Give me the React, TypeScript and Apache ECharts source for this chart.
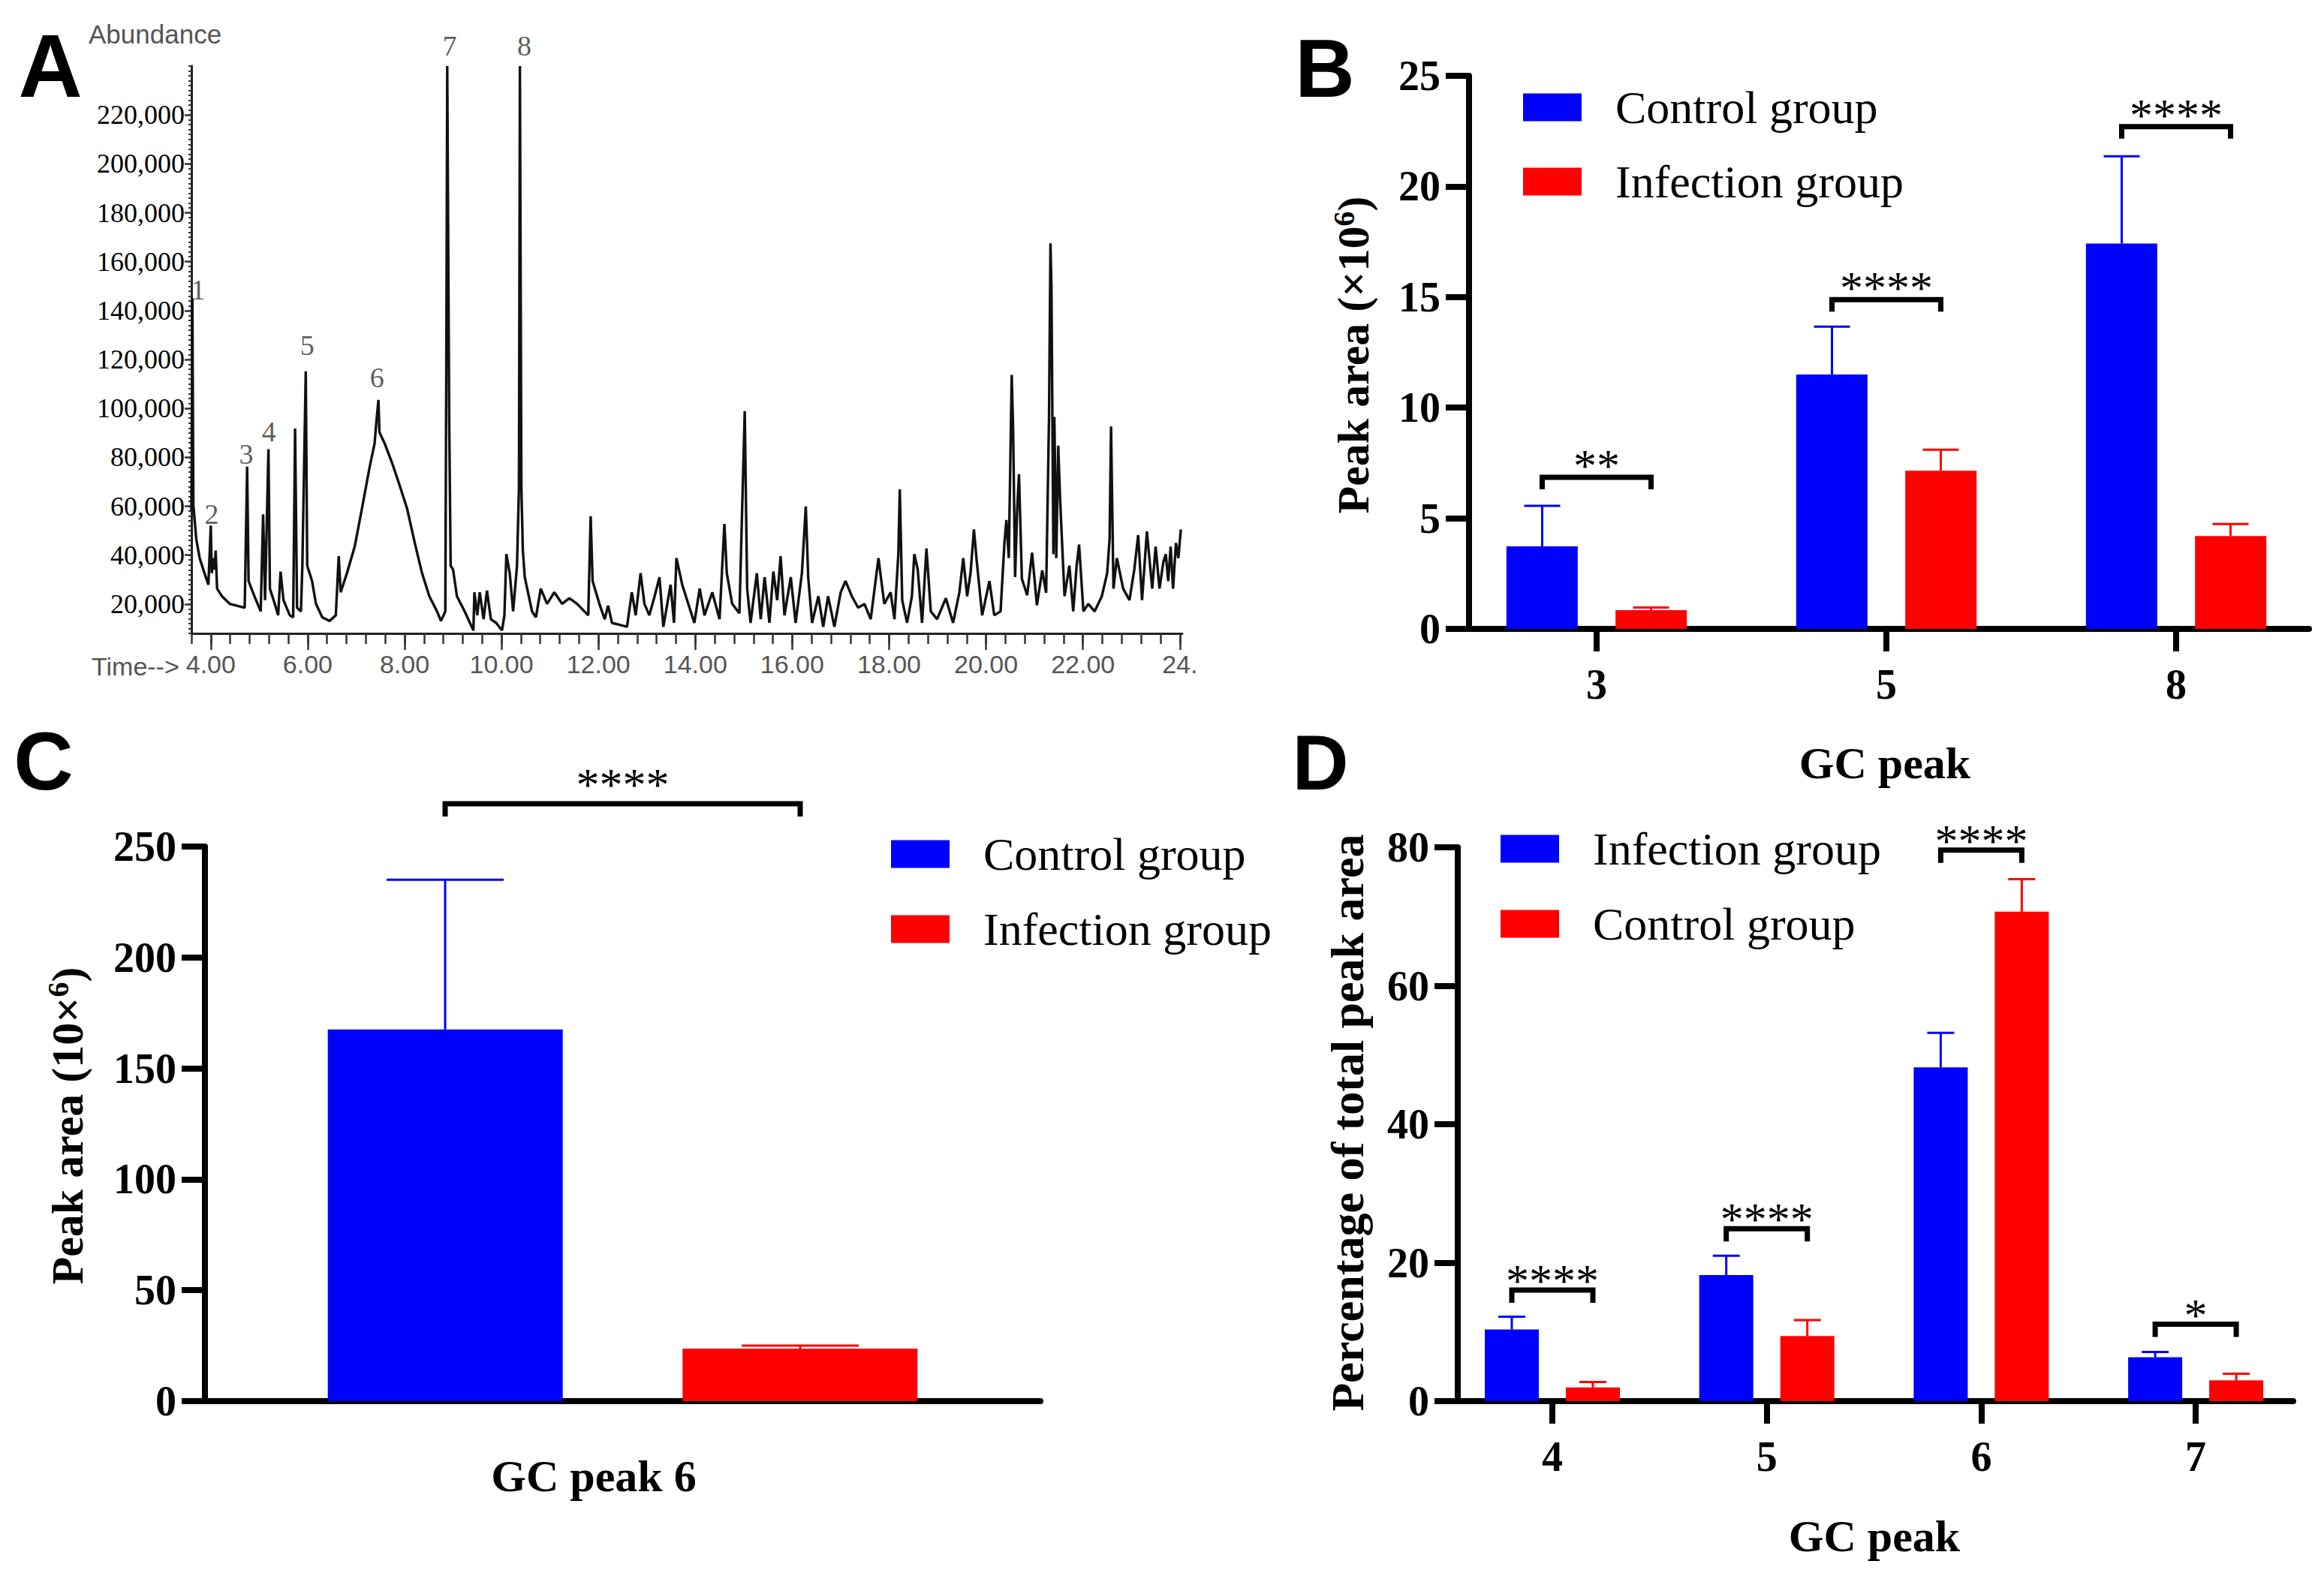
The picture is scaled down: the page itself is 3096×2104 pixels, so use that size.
import React, { useEffect, useRef } from 'react';
import * as echarts from 'echarts';

const BLUE = '#0000FF';
const RED = '#FF0000';
const SERIF = '"Liberation Serif", "Times New Roman", serif';
const SANS = '"Liberation Sans", Arial, sans-serif';

// ---------------- Panel A : chromatogram (abundance in thousands) ----------------
const traceTime = [
  3.60, 3.62, 3.64, 3.70, 3.77, 3.87, 3.95, 4.00, 4.02, 4.05, 4.08, 4.10, 4.13, 4.23, 4.39, 4.54, 4.70,
  4.75, 4.78, 4.90, 5.03, 5.08, 5.12, 5.19, 5.22, 5.32, 5.39, 5.44, 5.50, 5.63, 5.70, 5.74, 5.78, 5.86,
  5.89, 5.96, 5.99, 6.09, 6.17, 6.30, 6.45, 6.58, 6.64, 6.68, 6.81, 6.97, 7.12, 7.28, 7.38, 7.42, 7.46,
  7.48, 7.59, 7.74, 7.90, 8.05, 8.21, 8.36, 8.51, 8.67, 8.75, 8.84, 8.86, 8.88, 8.92, 8.95, 9.00, 9.08,
  9.24, 9.42, 9.44, 9.50, 9.55, 9.63, 9.70, 9.78, 9.89, 10.01, 10.06, 10.10, 10.17, 10.24, 10.32, 10.36,
  10.38, 10.41, 10.44, 10.48, 10.63, 10.71, 10.81, 10.94, 11.09, 11.25, 11.40, 11.56, 11.71, 11.79, 11.84,
  11.88, 12.02, 12.13, 12.20, 12.28, 12.44, 12.59, 12.69, 12.77, 12.87, 12.95, 13.05, 13.16, 13.26, 13.34,
  13.49, 13.56, 13.61, 13.73, 13.88, 13.98, 14.09, 14.19, 14.35, 14.50, 14.60, 14.65, 14.76, 14.91, 15.02,
  15.07, 15.14, 15.27, 15.35, 15.43, 15.53, 15.61, 15.69, 15.76, 15.84, 15.97, 16.07, 16.20, 16.28, 16.33,
  16.41, 16.54, 16.64, 16.74, 16.87, 17.00, 17.10, 17.23, 17.36, 17.49, 17.62, 17.78, 17.90, 18.03, 18.11,
  18.19, 18.22, 18.27, 18.37, 18.47, 18.52, 18.59, 18.68, 18.77, 18.86, 18.99, 19.17, 19.32, 19.45, 19.53,
  19.61, 19.68, 19.75, 19.81, 19.92, 20.07, 20.17, 20.30, 20.38, 20.42, 20.47, 20.53, 20.56, 20.60, 20.64,
  20.68, 20.74, 20.85, 20.95, 21.05, 21.16, 21.24, 21.30, 21.33, 21.35, 21.39, 21.41, 21.45, 21.49, 21.53,
  21.62, 21.72, 21.80, 21.87, 21.92, 22.01, 22.11, 22.24, 22.39, 22.50, 22.55, 22.58, 22.63, 22.70, 22.83,
  22.96, 23.06, 23.14, 23.22, 23.32, 23.43, 23.50, 23.58, 23.66, 23.71, 23.76, 23.81, 23.86, 23.92, 23.97,
  24.02,
];
const traceAbundance = [
  58, 145, 60.6, 46.6, 38.8, 32.6, 27.9, 52.1, 32.6, 38.8, 34.1, 41.9, 26.3, 23.2, 20.1, 19.3, 18.5,
  76.2, 29.4, 23.2, 17.0, 56.7, 21.6, 83.3, 26.3, 20.1, 15.4, 33.3, 21.6, 15.4, 14.6, 91.8, 18.5, 17.0,
  35.7, 115.2, 35.7, 29.4, 20.1, 14.6, 13.1, 15.4, 39.6, 24.8, 32.6, 43.5, 59.1, 76.2, 85.6, 95.0, 103.5,
  90.3, 85.6, 77.8, 68.4, 59.1, 45.0, 32.6, 23.2, 17.0, 13.1, 17.0, 113.7, 240, 96.5, 35.7, 34.1, 23.2,
  17.0, 9.2, 24.8, 15.4, 24.8, 13.8, 25.5, 13.8, 12.3, 9.2, 15.4, 40.4, 32.6, 17.0, 35.7, 67.7,
  240, 67.7, 42.0, 31.0, 17.0, 14.6, 26.3, 20.1, 24.8, 20.1, 22.4, 20.1, 17.0, 15.4, 55.9,
  29.4, 20.1, 13.8, 19.3, 12.3, 11.5, 10.7, 24.8, 15.4, 32.6, 20.1, 15.4, 23.2, 31.0, 10.7,
  27.9, 12.3, 38.8, 27.9, 18.5, 12.3, 26.3, 15.4, 24.8, 13.8, 52.8, 32.6, 20.1, 16.2, 98.9,
  26.3, 12.3, 32.6, 13.8, 31.0, 12.3, 33.3, 21.6, 39.6, 15.4, 31.0, 12.3, 32.6, 59.9, 31.0,
  12.3, 23.2, 10.7, 23.2, 10.7, 24.8, 29.4, 23.2, 18.5, 20.1, 13.8, 38.8, 20.1, 24.8, 13.8,
  40.4, 66.9, 21.6, 12.3, 23.2, 40.4, 34.1, 12.3, 42.7, 17.0, 13.8, 22.4, 12.3, 24.8, 38.8,
  23.2, 32.6, 50.5, 37.2, 15.4, 29.4, 15.4, 17.0, 45.0, 54.4, 38.8, 113.7, 90.3, 31.0, 57.5,
  73.1, 30.3, 23.6, 41.0, 19.5, 33.8, 24.6, 96.5, 167.5, 149.6, 40.4, 96.5, 38.8, 84.8, 62.2,
  23.2, 35.7, 17.0, 35.7, 44.3, 17.0, 20.1, 17.0, 23.2, 32.6, 46.6, 92.6, 26.3, 38.8, 26.3,
  21.6, 34.1, 48.2, 21.6, 49.7, 26.3, 43.5, 26.3, 37.2, 40.4, 29.4, 43.5, 26.3, 45.0, 38.8,
  50.5,
];
const peakNames = ['1', '2', '3', '4', '5', '6', '7', '8'];
const peakLabelTime = [3.74, 4.02, 4.73, 5.2, 5.99, 7.43, 8.93, 10.47];
const peakLabelAbundance = [148.6, 56.8, 81.3, 90.6, 125.8, 112.6, 248.3, 248.3];
const aYLabelValues = [20, 40, 60, 80, 100, 120, 140, 160, 180, 200, 220];
const aXLabelValues = [4, 6, 8, 10, 12, 14, 16, 18, 20, 22, 24];

// ---------------- Panel B ----------------
const bCategories = ['3', '5', '8'];
const bControl = [3.73, 11.5, 17.42];
const bControlSD = [1.83, 2.16, 3.94];
const bInfection = [0.85, 7.15, 4.2];
const bInfectionSD = [0.12, 0.95, 0.54];
const bSigLabels = ['**', '****', '****'];
const bSigLevels = [6.85, 14.88, 22.7];

// ---------------- Panel C ----------------
const cCategories = ['GC peak 6'];
const cControl = [167.5];
const cControlSD = [67.5];
const cInfection = [23.7];
const cInfectionSD = [1.3];
const cSigLabels = ['****'];
const cSigLevels = [269.3];

// ---------------- Panel D ----------------
const dCategories = ['4', '5', '6', '7'];
const dInfection = [10.36, 18.2, 48.2, 6.33];
const dInfectionSD = [1.84, 2.8, 5.0, 0.77];
const dControl = [1.98, 9.4, 70.7, 3.0];
const dControlSD = [0.79, 2.3, 4.7, 0.96];
const dSigLabels = ['****', '****', '****', '*'];
const dSigLevels = [16.05, 24.9, 79.6, 11.1];

function range(start: number, end: number, step: number): number[] {
  const out: number[] = [];
  for (let v = start; v <= end + 1e-9; v += step) out.push(Math.round(v * 100) / 100);
  return out;
}
const aXMinorTicks = range(3.6, 24.0, 0.4);
const aYMinorTicks = range(8, 240, 2);

const boldTick = { fontFamily: SERIF, fontWeight: 'bold', fontSize: 56, color: '#000' };

// group index positions on a value axis (0..n-1), labelled with the category names
function groupX(gridIndex: number, cats: string[], min: number, max: number) {
  const idx = cats.map((_, i) => i);
  return {
    type: 'value', gridIndex, min, max,
    axisLine: { show: true, onZero: false, lineStyle: { color: '#000', width: 8 } },
    axisTick: { show: true, customValues: idx, length: 30, lineStyle: { color: '#000', width: 8 } },
    axisLabel: { customValues: idx, margin: 46, ...boldTick, formatter: (v: number) => cats[Math.round(v)] },
    splitLine: { show: false },
  };
}
function catX(gridIndex: number, data: string[]) {
  return {
    type: 'category', gridIndex, data,
    axisLine: { show: true, onZero: false, lineStyle: { color: '#000', width: 8 } },
    axisTick: { show: false },
    axisLabel: { show: false },
    splitLine: { show: false },
  };
}
function valY(gridIndex: number, max: number, interval: number) {
  return {
    type: 'value', gridIndex, min: 0, max, interval,
    axisLine: { show: true, onZero: false, lineStyle: { color: '#000', width: 8 } },
    axisTick: { show: true, length: 31, lineStyle: { color: '#000', width: 8 } },
    axisLabel: { margin: 38, ...boldTick },
    splitLine: { show: false },
  };
}
function bars(name: string, axis: number, data: number[], color: string, barWidth: number, barGap: string, paired: boolean) {
  return {
    type: 'bar', name, xAxisIndex: axis, yAxisIndex: axis,
    data: paired ? data.map((v, i) => [i, v]) : data,
    barWidth, barGap,
    itemStyle: { color }, silent: true, z: 2,
  };
}
function errorBars(axis: number, means: number[], sds: number[], offset: number, capHalf: number, color: string) {
  return {
    type: 'custom', xAxisIndex: axis, yAxisIndex: axis, clip: false, silent: true, z: 3,
    data: means.map((m, i) => [i, m, sds[i]]),
    encode: { x: 0, y: 1 },
    renderItem: (params: any, api: any) => {
      const i = api.value(0);
      const m = api.value(1);
      const sd = api.value(2);
      const b = api.coord([i, m]);
      const t = api.coord([i, m + sd]);
      const x = b[0] + offset;
      return {
        type: 'group',
        children: [
          { type: 'line', shape: { x1: x, y1: b[1], x2: x, y2: t[1] }, style: { stroke: color, lineWidth: 3 } },
          { type: 'line', shape: { x1: x - capHalf, y1: t[1], x2: x + capHalf, y2: t[1] }, style: { stroke: color, lineWidth: 3 } },
        ],
      };
    },
  };
}
function sigBrackets(axis: number, levels: number[], labels: string[], offset: number, leg: number, starsGap: number) {
  return {
    type: 'custom', xAxisIndex: axis, yAxisIndex: axis, clip: false, silent: true, z: 4,
    data: levels.map((l, i) => [i, l]),
    encode: { x: 0, y: 1 },
    renderItem: (params: any, api: any) => {
      const i = api.value(0);
      const l = api.value(1);
      const p = api.coord([i, l]);
      const xl = p[0] - offset;
      const xr = p[0] + offset;
      const y = p[1];
      return {
        type: 'group',
        children: [
          {
            type: 'polyline',
            shape: { points: [[xl, y + leg], [xl, y], [xr, y], [xr, y + leg]] },
            style: { stroke: '#000', lineWidth: 7, fill: 'none' },
          },
          {
            type: 'text', x: p[0], y: y - starsGap,
            style: {
              text: labels[params.dataIndex], fill: '#000', fontSize: 62, fontFamily: SERIF,
              align: 'center', verticalAlign: 'middle', textAlign: 'center', textVerticalAlign: 'middle',
            },
          },
        ],
      };
    },
  };
}
function legend(left: number, top: number, gap: number, items: { name: string; color: string }[]) {
  return {
    orient: 'vertical', left, top, padding: 0, itemWidth: 78, itemHeight: 37, itemGap: gap, icon: 'rect',
    selectedMode: false,
    data: items.map((it) => ({ name: it.name, itemStyle: { color: it.color } })),
    textStyle: { fontFamily: SERIF, fontSize: 62, lineHeight: 62, color: '#000', padding: [0, 0, 0, 40] },
  };
}
function text(str: string, x: number, y: number, fontSize: number, fontFamily: string, fontWeight: string, fill = '#000', align = 'center') {
  return {
    type: 'text', x, y, silent: true,
    style: {
      text: str, fontSize, fontFamily, fontWeight, fill,
      align, verticalAlign: 'middle', textAlign: align, textVerticalAlign: 'middle',
    },
  };
}
function richYLabel(x: number, y: number, pre: string, sup: string, post: string) {
  const a = { fontSize: 60, fontWeight: 'bold', fontFamily: SERIF, fill: '#000', color: '#000', lineHeight: 66 };
  const b = { fontSize: 40, fontWeight: 'bold', fontFamily: SERIF, fill: '#000', color: '#000', lineHeight: 40, verticalAlign: 'top' };
  return {
    type: 'text', x, y, rotation: Math.PI / 2, silent: true,
    style: {
      text: `{a|${pre}}{b|${sup}}{a|${post}}`, rich: { a, b },
      align: 'center', verticalAlign: 'middle', textAlign: 'center', textVerticalAlign: 'middle',
    },
  };
}

function buildOption() {
  const aAxisLine = { color: '#222', width: 3 };
  return {
    animation: false,
    backgroundColor: '#fff',
    textStyle: { fontFamily: SERIF },
    grid: [
      { left: 255, top: 88, width: 1320, height: 756 },
      { left: 1957, top: 101, width: 1119, height: 737 },
      { left: 273, top: 1128, width: 1113, height: 739 },
      { left: 1942, top: 1129, width: 1113, height: 738 },
    ],
    xAxis: [
      {
        type: 'value', gridIndex: 0, min: 3.6, max: 24.05,
        axisLine: { show: true, onZero: false, lineStyle: aAxisLine },
        axisTick: { show: true, customValues: aXMinorTicks, length: 14, lineStyle: { color: '#333', width: 2.5 } },
        axisLabel: {
          customValues: aXLabelValues, margin: 24, fontFamily: SANS, fontSize: 34, color: '#555',
          formatter: (v: number) => (v === 24 ? '24.' : v.toFixed(2)),
        },
        splitLine: { show: false },
      },
      {
        type: 'value', gridIndex: 0, min: 3.6, max: 24.05, position: 'bottom',
        axisLine: { show: false, onZero: false },
        axisTick: { show: true, customValues: aXLabelValues, length: 22, lineStyle: { color: '#333', width: 2.5 } },
        axisLabel: { show: false },
        splitLine: { show: false },
      },
      groupX(1, bCategories, -0.4404, 2.4585),
      catX(2, cCategories),
      groupX(3, dCategories, -0.441, 3.4547),
    ],
    yAxis: [
      {
        type: 'value', gridIndex: 0, min: 8, max: 240,
        axisLine: { show: true, onZero: false, lineStyle: aAxisLine },
        axisTick: { show: true, customValues: aYMinorTicks, length: 4, lineStyle: { color: '#333', width: 2 } },
        axisLabel: {
          customValues: aYLabelValues, margin: 9, fontFamily: SERIF, fontSize: 36, color: '#000',
          formatter: (v: number) => `${v},000`,
        },
        splitLine: { show: false },
      },
      {
        type: 'value', gridIndex: 0, min: 8, max: 240, position: 'left',
        axisLine: { show: false, onZero: false },
        axisTick: { show: true, customValues: aYLabelValues, length: 9, lineStyle: { color: '#333', width: 2.5 } },
        axisLabel: { show: false },
        splitLine: { show: false },
      },
      valY(1, 25, 5),
      valY(2, 250, 50),
      valY(3, 80, 20),
    ],
    legend: [
      legend(2029, 112, 37, [{ name: 'Control group', color: BLUE }, { name: 'Infection group', color: RED }]),
      legend(1187, 1107, 38, [{ name: 'Control group', color: BLUE }, { name: 'Infection group', color: RED }]),
      legend(1999, 1100, 38, [{ name: 'Infection group', color: BLUE }, { name: 'Control group', color: RED }]),
    ],
    series: [
      {
        type: 'line', xAxisIndex: 0, yAxisIndex: 0, showSymbol: false, silent: true,
        data: traceTime.map((t, i) => [t, traceAbundance[i]]),
        lineStyle: { color: '#111', width: 3.4 },
      },
      {
        type: 'scatter', xAxisIndex: 0, yAxisIndex: 0, clip: false, silent: true, symbolSize: 1,
        itemStyle: { color: 'rgba(0,0,0,0)' },
        data: peakNames.map((n, i) => ({ name: n, value: [peakLabelTime[i], peakLabelAbundance[i]] })),
        label: { show: true, position: 'inside', formatter: '{b}', fontFamily: SERIF, fontSize: 38, color: '#333' },
      },
      // Panel B
      bars('Control group', 2, bControl, BLUE, 95, '53%', true),
      bars('Infection group', 2, bInfection, RED, 95, '53%', true),
      errorBars(2, bControl, bControlSD, -72.5, 24, BLUE),
      errorBars(2, bInfection, bInfectionSD, 72.5, 24, RED),
      sigBrackets(2, bSigLevels, bSigLabels, 72.5, 16, 16),
      // Panel C
      bars('Control group', 3, cControl, BLUE, 313, '51%', false),
      bars('Infection group', 3, cInfection, RED, 313, '51%', false),
      errorBars(3, cControl, cControlSD, -236.5, 78, BLUE),
      errorBars(3, cInfection, cInfectionSD, 236.5, 78, RED),
      sigBrackets(3, cSigLevels, cSigLabels, 236.5, 17, 26),
      // Panel D
      bars('Infection group', 4, dInfection, BLUE, 72, '50%', true),
      bars('Control group', 4, dControl, RED, 72, '50%', true),
      errorBars(4, dInfection, dInfectionSD, -54, 18, BLUE),
      errorBars(4, dControl, dControlSD, 54, 18, RED),
      sigBrackets(4, dSigLevels, dSigLabels, 54, 17, 13),
    ],
    graphic: [
      text('A', 67, 88, 118, SANS, 'bold'),
      text('B', 1765, 90, 110, SANS, 'bold'),
      text('C', 58, 1013, 110, SANS, 'bold'),
      text('D', 1759, 1016, 104, SANS, 'bold'),
      text('Abundance', 118, 45, 35, SANS, 'normal', '#555', 'left'),
      text('Time-->', 122, 888, 34, SANS, 'normal', '#555', 'left'),
      text('GC peak', 2511, 1017, 60, SERIF, 'bold'),
      text('GC peak 6', 791, 1967, 60, SERIF, 'bold'),
      text('GC peak', 2497, 2047, 60, SERIF, 'bold'),
      richYLabel(1803, 473, 'Peak area (×10', '6', ')'),
      richYLabel(90, 1500, 'Peak area (10×', '6', ')'),
      {
        type: 'text', x: 1795, y: 1496, rotation: Math.PI / 2, silent: true,
        style: {
          text: 'Percentage of total peak area', fontSize: 62, fontWeight: 'bold', fontFamily: SERIF, fill: '#000',
          align: 'center', verticalAlign: 'middle', textAlign: 'center', textVerticalAlign: 'middle',
        },
      },
    ],
  };
}

export default function App() {
  const ref = useRef<HTMLDivElement>(null);
  useEffect(() => {
    if (!ref.current) return;
    const chart = echarts.init(ref.current, null, { renderer: 'svg' });
    chart.setOption(buildOption() as any);
    return () => chart.dispose();
  }, []);
  return (
    <div
      ref={ref}
      style={{ position: 'absolute', left: 0, top: 0, width: 3096, height: 2104, background: '#fff' }}
    />
  );
}
